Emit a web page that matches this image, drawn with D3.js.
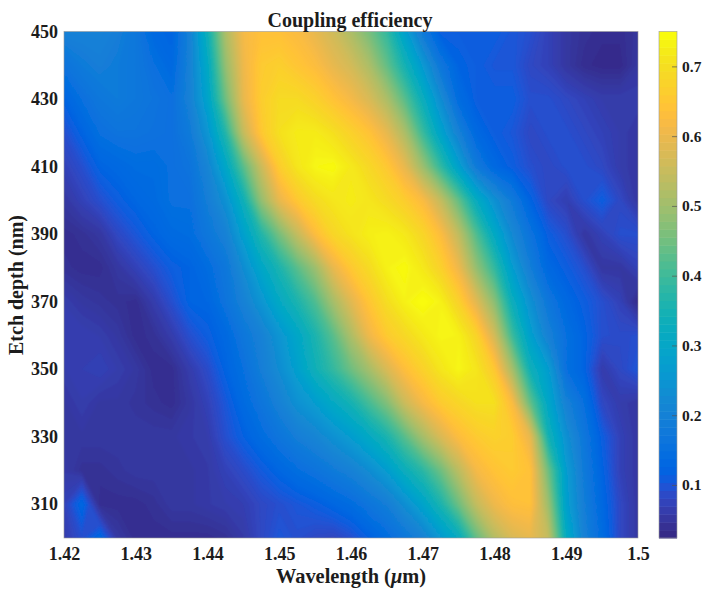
<!DOCTYPE html>
<html><head><meta charset="utf-8">
<script src="https://cdn.jsdelivr.net/npm/d3@7"></script>
<style>
html,body{margin:0;padding:0;background:#fff}
svg{display:block}
text{font-family:"Liberation Serif","Times New Roman",serif;font-weight:bold;fill:#1c1c1c}
</style></head><body>
<svg id="c" width="707" height="594"></svg>
<script>
const wavelengths=d3.range(33).map(i=>1.42+i*0.0025);
const depths=[450,440,430,420,410,400,390,380,370,360,350,340,330,320,310,300];
const xTicks=[1.42,1.43,1.44,1.45,1.46,1.47,1.48,1.49,1.5];
const yTicks=[310,330,350,370,390,410,430,450];
const cTicks=[0.1,0.2,0.3,0.4,0.5,0.6,0.7];
const cRange=[0.024,0.75];
const efficiency=[
[.2,.2,.2,.19,.17,.13,.12,.2,.34,.52,.62,.645,.645,.63,.6,.565,.52,.46,.39,.28,.18,.11,.11,.11,.11,.1,.09,.07,.05,.04,.035,.035,.045],
[.16,.18,.19,.18,.17,.15,.13,.2,.31,.49,.61,.665,.675,.655,.635,.6,.57,.52,.44,.35,.26,.17,.12,.11,.1,.1,.08,.07,.05,.035,.03,.03,.05],
[.12,.15,.17,.18,.17,.16,.15,.2,.29,.45,.6,.67,.7,.7,.68,.65,.62,.58,.52,.43,.33,.23,.14,.11,.11,.11,.09,.09,.08,.07,.06,.06,.06],
[.09,.12,.15,.16,.16,.155,.15,.18,.25,.37,.55,.66,.71,.73,.73,.71,.68,.65,.6,.52,.4,.29,.2,.13,.11,.1,.08,.09,.09,.08,.07,.06,.05],
[.07,.09,.12,.13,.14,.14,.15,.16,.21,.3,.43,.56,.67,.72,.745,.75,.725,.695,.66,.6,.5,.39,.28,.18,.13,.11,.09,.08,.09,.09,.08,.06,.05],
[.05,.07,.09,.11,.125,.135,.15,.15,.19,.24,.34,.49,.6,.66,.7,.72,.73,.72,.7,.67,.63,.55,.44,.32,.24,.18,.12,.08,.065,.09,.11,.08,.05],
[.035,.04,.05,.08,.1,.12,.135,.14,.17,.2,.28,.37,.46,.55,.635,.69,.715,.735,.74,.725,.69,.635,.545,.42,.31,.22,.16,.11,.09,.05,.07,.09,.09],
[.04,.035,.035,.05,.07,.09,.11,.12,.14,.17,.23,.3,.36,.43,.5,.6,.66,.7,.74,.75,.725,.68,.61,.49,.39,.27,.19,.13,.11,.09,.05,.05,.07],
[.06,.05,.045,.04,.035,.06,.09,.12,.125,.16,.2,.25,.31,.36,.42,.51,.59,.655,.705,.74,.755,.74,.68,.59,.48,.33,.24,.17,.13,.11,.09,.07,.03],
[.065,.065,.06,.05,.035,.04,.06,.09,.11,.13,.17,.2,.25,.3,.36,.43,.52,.61,.665,.695,.725,.745,.74,.685,.57,.4,.28,.2,.15,.12,.09,.085,.09],
[.06,.065,.07,.06,.05,.035,.035,.06,.085,.12,.15,.19,.23,.28,.34,.39,.45,.51,.58,.64,.68,.72,.745,.72,.66,.51,.34,.27,.15,.12,.06,.08,.1],
[.05,.06,.05,.05,.045,.04,.035,.05,.07,.1,.135,.165,.2,.24,.27,.31,.35,.41,.47,.56,.62,.665,.69,.71,.71,.63,.44,.3,.2,.15,.08,.06,.05],
[.05,.05,.05,.05,.05,.05,.05,.055,.06,.09,.115,.14,.165,.19,.21,.24,.27,.31,.36,.43,.51,.58,.635,.665,.68,.67,.6,.35,.24,.17,.11,.07,.05],
[.055,.04,.04,.045,.05,.05,.05,.05,.055,.07,.085,.105,.125,.145,.16,.18,.2,.23,.27,.33,.38,.45,.54,.62,.65,.665,.645,.45,.27,.18,.12,.07,.05],
[.07,.13,.035,.035,.035,.04,.05,.05,.055,.06,.065,.08,.09,.1,.11,.125,.14,.165,.19,.235,.29,.36,.45,.55,.61,.64,.645,.5,.28,.19,.13,.08,.05],
[.06,.09,.13,.05,.035,.035,.035,.035,.035,.04,.055,.08,.1,.09,.08,.075,.09,.115,.14,.17,.2,.26,.32,.44,.53,.58,.6,.55,.32,.2,.14,.08,.05]
];
const parula=[[.2081,.1663,.5292],[.2116,.1898,.5777],[.2123,.2138,.6270],[.2081,.2386,.6771],[.1959,.2645,.7279],[.1707,.2919,.7792],[.1253,.3242,.8303],[.0591,.3598,.8683],[.0117,.3875,.8820],[.0060,.4086,.8828],[.0165,.4266,.8786],[.0329,.4430,.8720],[.0498,.4586,.8641],[.0629,.4737,.8554],[.0723,.4887,.8467],[.0779,.5040,.8384],[.0793,.5200,.8312],[.0749,.5375,.8263],[.0641,.5570,.8240],[.0488,.5772,.8228],[.0343,.5966,.8199],[.0265,.6137,.8135],[.0239,.6287,.8038],[.0231,.6418,.7913],[.0228,.6535,.7768],[.0267,.6642,.7607],[.0384,.6743,.7436],[.0590,.6838,.7254],[.0843,.6928,.7062],[.1133,.7015,.6859],[.1453,.7098,.6646],[.1801,.7177,.6424],[.2178,.7250,.6193],[.2586,.7317,.5954],[.3022,.7376,.5712],[.3482,.7424,.5473],[.3953,.7459,.5244],[.4420,.7481,.5033],[.4871,.7491,.4840],[.5300,.7491,.4661],[.5709,.7485,.4494],[.6099,.7473,.4337],[.6473,.7456,.4188],[.6834,.7435,.4044],[.7184,.7411,.3905],[.7525,.7384,.3768],[.7858,.7356,.3633],[.8185,.7327,.3498],[.8507,.7299,.3360],[.8824,.7274,.3217],[.9139,.7258,.3063],[.9450,.7261,.2886],[.9739,.7314,.2666],[.9938,.7455,.2403],[.9990,.7653,.2164],[.9955,.7861,.1967],[.9880,.8066,.1794],[.9789,.8271,.1633],[.9697,.8481,.1475],[.9626,.8705,.1309],[.9589,.8949,.1132],[.9598,.9218,.0948],[.9661,.9514,.0755],[.9763,.9831,.0538]];
const paletteCss=parula.map(c=>`rgb(${Math.round(c[0]*255)},${Math.round(c[1]*255)},${Math.round(c[2]*255)})`);

const L=64,R=638,T=31.5,B=538,CL=659,CR=677;
const svg=d3.select("#c");
const x=d3.scaleLinear().domain([1.42,1.5]).range([L,R]);
const y=d3.scaleLinear().domain([300,450]).range([B,T]);
const cY=d3.scaleLinear().domain(cRange).range([B,T]);
const color=d3.scaleLinear().domain(d3.range(64).map(i=>cRange[0]+(cRange[1]-cRange[0])*i/63)).range(paletteCss).clamp(true);

const defs=svg.append("defs");
defs.append("clipPath").attr("id","plot").append("rect")
  .attr("x",L).attr("y",T).attr("width",R-L).attr("height",B-T);
defs.append("filter").attr("id","soft").append("feGaussianBlur").attr("stdDeviation",0.8);

const nx=wavelengths.length,ny=depths.length;
const flat=efficiency.flat();
const levels=d3.range(0,160).map(i=>cRange[0]+(cRange[1]-cRange[0])*i/159);
const contours=d3.contours().size([nx,ny]).smooth(true).thresholds(levels)(flat);
const gridX=d3.scaleLinear().domain([0.5,nx-0.5]).range([x(wavelengths[0]),x(wavelengths[nx-1])]);
const gridY=d3.scaleLinear().domain([0.5,ny-0.5]).range([y(depths[0]),y(depths[ny-1])]);
const path=d3.geoPath(d3.geoTransform({point(a,b){this.stream.point(gridX(a),gridY(b));}}));
const plot=svg.append("g").attr("clip-path","url(#plot)").append("g").attr("filter","url(#soft)");
plot.append("rect").attr("x",L).attr("y",T).attr("width",R-L).attr("height",B-T).attr("fill",paletteCss[0]);
plot.selectAll("path").data(contours).join("path").attr("d",path).attr("fill",d=>color(d.value));

svg.append("rect").attr("x",L).attr("y",T).attr("width",R-L).attr("height",B-T)
  .attr("fill","none").attr("stroke","#9a9a9a").attr("stroke-width",0.6);

// colorbar
const band=d3.scaleBand().domain(d3.range(64)).range([B,T]);
svg.append("g").selectAll("rect").data(paletteCss).join("rect")
  .attr("x",CL).attr("width",CR-CL).attr("y",(d,i)=>band(i)).attr("height",band.bandwidth()+0.5).attr("fill",d=>d);
svg.append("rect").attr("x",CL).attr("y",T).attr("width",CR-CL).attr("height",B-T)
  .attr("fill","none").attr("stroke","#9a9a9a").attr("stroke-width",0.6);

function style(g,size){g.select(".domain").remove();g.selectAll("text").attr("font-size",size);}
svg.append("g").attr("transform",`translate(0,${B})`)
  .call(d3.axisBottom(x).tickValues(xTicks).tickFormat(d3.format("~g")).tickSize(0).tickPadding(9))
  .call(style,18);
svg.append("g").attr("transform",`translate(${L},0)`)
  .call(d3.axisLeft(y).tickValues(yTicks).tickFormat(d3.format("d")).tickSize(0).tickPadding(6))
  .call(style,18);
const cg=svg.append("g").attr("transform",`translate(${CR},0)`)
  .call(d3.axisRight(cY).tickValues(cTicks).tickFormat(d3.format(".1f")).tickSize(-5).tickPadding(5))
  .call(style,15.5);
cg.selectAll("line").attr("stroke","#555").attr("stroke-width",0.7);

svg.append("text").attr("x",350).attr("y",27).attr("text-anchor","middle").attr("font-size",20).text("Coupling efficiency");
const xl=svg.append("text").attr("x",351).attr("y",583).attr("text-anchor","middle").attr("font-size",20.4);
xl.append("tspan").text("Wavelength (");
xl.append("tspan").attr("font-style","italic").text("\u03BC");
xl.append("tspan").text("m)");
svg.append("text").attr("transform","translate(23,285) rotate(-90)").attr("text-anchor","middle").attr("font-size",20).text("Etch depth (nm)");
</script>
</body></html>
